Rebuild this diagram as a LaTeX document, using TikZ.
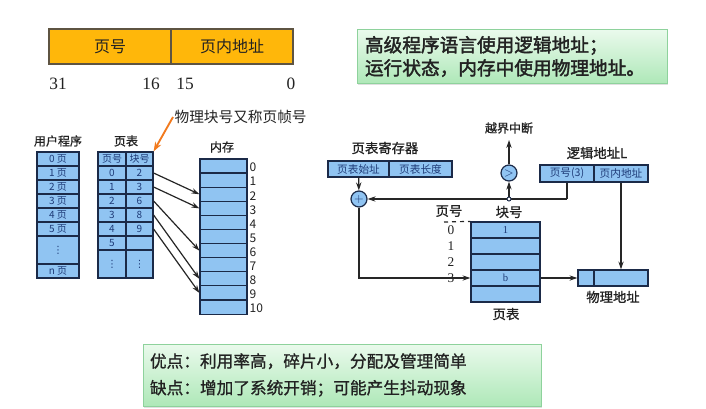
\documentclass[tikz,border=0pt]{standalone}
\usepackage{fontspec}
\newfontfamily\cjk[AutoFakeBold=2]{Noto Sans CJK SC}
\newfontfamily\cjkm[FakeBold=1]{Noto Sans CJK SC}
\newfontfamily\tms{Liberation Serif}
\newfontfamily\djv{DejaVu Sans}
\usetikzlibrary{arrows.meta,shadows}
\definecolor{cellblue}{HTML}{90C4F2}
\definecolor{navy}{HTML}{1B2A48}
\definecolor{celltxt}{HTML}{1F3C78}
\definecolor{txt}{HTML}{222222}
\definecolor{barorange}{HTML}{FFB70A}
\definecolor{barline}{HTML}{5E5442}
\definecolor{notearrow}{HTML}{F27A1E}
\definecolor{greentop}{HTML}{EAFAEC}
\definecolor{greenbot}{HTML}{AEE8B8}
\definecolor{greenline}{HTML}{8ED29C}
\newcommand{\vdt}{{\djv ⋮}}

\begin{document}
\begin{tikzpicture}[x=0.75pt,y=-0.75pt,
  cell/.style={draw=navy,fill=cellblue,line width=0.9pt,inner sep=0pt,text=celltxt,
               font=\cjk\fontsize{7.5}{8}\selectfont},
  bar/.style={draw=barline,fill=barorange,line width=0.9pt,minimum width=91.5pt,
              minimum height=26.25pt,inner sep=0pt,text=txt,font=\cjk\fontsize{12}{14}\selectfont},
  lbl/.style={text=txt,inner sep=1pt,font=\cjkm\fontsize{9}{10}\selectfont},
  big/.style={text=txt,inner sep=1pt,font=\cjkm\fontsize{10}{12}\selectfont},
  num/.style={text=txt,inner sep=1pt,font=\tms\fontsize{13}{14}\selectfont},
  rownum/.style={text=txt,inner sep=1pt,font=\tms\fontsize{10}{11}\selectfont},
  memnum/.style={text=txt,inner sep=1pt,font=\cjk\fontsize{9}{10}\selectfont},
  circ/.style={circle,draw=navy,fill=cellblue,line width=0.9pt,minimum size=12pt,
               inner sep=0pt,text=celltxt,font=\fontsize{9}{9}\selectfont},
  dotc/.style={circle,draw=navy,fill=white,line width=0.7pt,minimum size=3pt,inner sep=0pt},
  link/.style={line width=0.9pt,draw=black!85,-{Stealth[length=6pt,width=4pt]}},
  wire/.style={line width=0.9pt,draw=black!85},
  greenbox/.style={draw=greenline,top color=greentop,bottom color=greenbot,line width=0.6pt,
                   align=left,text=txt,
                   drop shadow={opacity=0.25,shadow xshift=1pt,shadow yshift=-1.2pt}}]
  \useasboundingbox[fill=white] (0,0) rectangle (706,408);

  % address format
  \node[bar] (fpage) at (110,46.5) {页号};
  \node[bar] (foff) at (232,46.5) {页内地址};
  \node[num] (b31) at (58,84) {31};
  \node[num] (b16) at (151,84) {16};
  \node[num] (b15) at (185,84) {15};
  \node[num] (b0) at (291,84) {0};

  % notes
  \node[greenbox,minimum width=232.5pt,minimum height=40.5pt,text width=220.5pt,inner xsep=6pt,
        font=\cjk\bfseries\fontsize{14}{17.25}\selectfont] (tip) at (512,56.5)
        {高级程序语言使用逻辑地址；\\运行状态，内存中使用物理地址。};
  \node[greenbox,minimum width=298.5pt,minimum height=46.5pt,text width=288pt,inner xsep=5.25pt,
        font=\cjkm\fontsize{12.5}{20}\selectfont] (proscons) at (342,375)
        {优点：利用率高，碎片小，分配及管理简单\\缺点：增加了系统开销；可能产生抖动现象};

  % user program
  \node[lbl] (uplbl) at (58,141) {用户程序};
  \foreach \t [count=\k from 0] in {0 页,1 页,2 页,3 页,4 页,5 页}
    \node[cell,minimum width=31.5pt,minimum height=10.5pt] (u\k) at (58,{159+14*\k}) {\t};
  \node[cell,minimum width=31.5pt,minimum height=21pt] (udots) at (58,250) {\vdt};
  \node[cell,minimum width=31.5pt,minimum height=10.5pt] (un) at (58,271) {n 页};

  % page table
  \node[lbl] (ptlbl) at (126,141) {页表};
  \node[cell,minimum width=21pt,minimum height=10.5pt] (hp) at (112,159) {页号};
  \node[cell,minimum width=20.25pt,minimum height=10.5pt] (hf) at (139.5,159) {块号};
  \foreach \b [count=\k from 0] in {2,3,6,8,9}{
    \node[cell,minimum width=21pt,minimum height=10.5pt] (pg\k) at (112,{173+14*\k}) {\k};
    \node[cell,minimum width=20.25pt,minimum height=10.5pt] (fr\k) at (139.5,{173+14*\k}) {\b};
  }
  \node[cell,minimum width=21pt,minimum height=10.5pt] (pg5) at (112,243) {5};
  \node[cell,minimum width=20.25pt,minimum height=10.5pt] (fr5) at (139.5,243) {};
  \node[cell,minimum width=21pt,minimum height=21pt] (pgd) at (112,264) {\vdt};
  \node[cell,minimum width=20.25pt,minimum height=21pt] (frd) at (139.5,264) {\vdt};

  \node[anchor=west,text=txt,inner sep=1pt,font=\cjk\fontsize{11}{12}\selectfont] (frnote) at (173,117) {物理块号又称页帧号};
  \draw[line width=1.4pt,draw=notearrow,-{Stealth[length=7pt,width=5pt]}] (frnote.west) -- (hf.north east);

  % memory
  \node[lbl] (memlbl) at (222,147) {内存};
  \foreach \i in {0,...,10}{
    \node[cell,minimum width=35.25pt,minimum height=10.6pt] (m\i) at (223.5,{166.05+14.1*\i}) {};
    \node[memnum,anchor=west] (n\i) at (248,{167.5+14.1*\i}) {\i};
  }
  \foreach \p/\m in {0/2,1/3,2/6,3/8,4/9}
    \draw[link] (fr\p.east) -- (m\m.west);

  % address translation
  \node[big] (reglbl) at (385,148) {页表寄存器};
  \node[cell,minimum width=45.75pt,minimum height=12pt,font=\cjk\fontsize{8}{9}\selectfont] (rbase) at (358.5,169) {页表始址};
  \node[cell,minimum width=47.25pt,minimum height=12pt,font=\cjk\fontsize{8}{9}\selectfont] (rlen) at (420.5,169) {页表长度};
  \node[circ] (add) at (359,199) {+};
  \node[circ] (cmp) at (509,173) {$>$};
  \coordinate (jn) at (509,199);
  \coordinate (intr) at (509,140);
  \node[lbl] (intrlbl) at (509,128) {越界中断};

  \node[big] (lalbl) at (597,153) {逻辑地址L};
  \node[cell,minimum width=40.5pt,minimum height=12.75pt,font=\cjk\fontsize{8}{9}\selectfont] (lpage) at (567,173.5) {页号(3)};
  \node[cell,minimum width=40.5pt,minimum height=12.75pt,font=\cjk\fontsize{8}{9}\selectfont] (loff) at (621,173.5) {页内地址};
  \coordinate (bend) at (567,199);

  \node[big] (pnlbl) at (449,211) {页号};
  \node[big] (fnlbl) at (509,212) {块号};
  \foreach \i/\t in {0/1,1/,2/,3/b,4/}
    \node[cell,minimum width=51.75pt,minimum height=12pt,font=\tms\fontsize{8}{9}\selectfont] (t\i) at (505.5,{230+16*\i}) {\t};
  \foreach \i in {0,...,3}
    \node[rownum] (r\i) at (451,{230+16*\i}) {\i};
  \coordinate (dash0) at (444,222);
  \draw[wire,dashed] (dash0) -- (t0.north west);
  \node[big] (ptlbl2) at (506,314) {页表};

  \node[cell,minimum width=12pt,minimum height=12pt] (pfr) at (586,278) {};
  \node[cell,minimum width=40.5pt,minimum height=12pt] (poff) at (621,278) {};
  \node[big] (palbl) at (613,297) {物理地址};

  \draw[link] (rbase) -- (add);
  \draw[wire] (lpage.south) -- (bend);
  \draw[link] (bend) -- (add.east);
  \draw[link] (jn) -- (cmp);
  \draw[link] (cmp) -- (intr);
  \draw[link] (add.south) |- (t3.west);
  \draw[link] (t3.east) -- (pfr.west);
  \draw[link] (loff.south) -- (poff.north);
  \node[dotc] (jndot) at (jn) {};
\end{tikzpicture}
\end{document}
